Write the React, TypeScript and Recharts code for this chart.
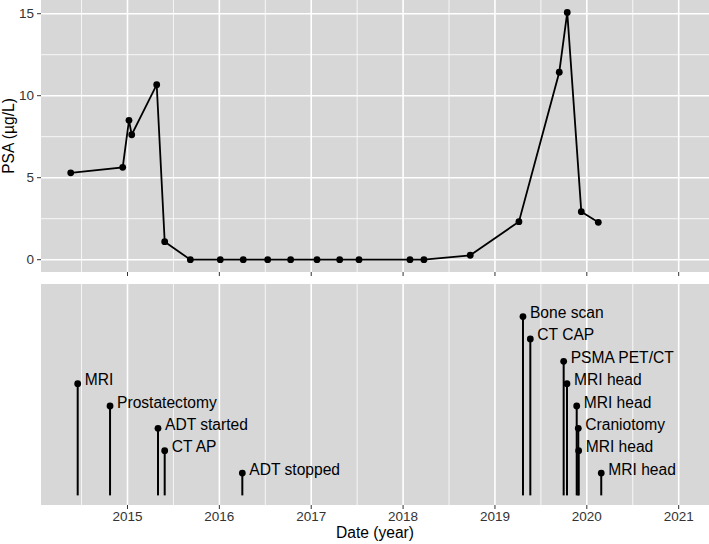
import React from 'react';
import {
  LineChart,
  Line,
  ComposedChart,
  Scatter,
  ReferenceLine,
  XAxis,
  YAxis,
  CartesianGrid,
} from 'recharts';

// PSA measurements (decimal year, µg/L)
const psaDates = [
  2014.382, 2014.948, 2015.016, 2015.046, 2015.318, 2015.405, 2015.684, 2016.01,
  2016.26, 2016.526, 2016.776, 2017.063, 2017.31, 2017.52, 2018.075, 2018.227,
  2018.731, 2019.261, 2019.7, 2019.787, 2019.94, 2020.125,
];
const psaValues = [
  5.3, 5.63, 8.5, 7.62, 10.67, 1.1, 0, 0, 0, 0, 0, 0, 0, 0, 0, 0, 0.27, 2.32, 11.43,
  15.08, 2.93, 2.28,
];

// clinical events
const eventNames = [
  'MRI',
  'Prostatectomy',
  'ADT started',
  'CT AP',
  'ADT stopped',
  'Bone scan',
  'CT CAP',
  'PSMA PET/CT',
  'MRI head',
  'MRI head',
  'Craniotomy',
  'MRI head',
  'MRI head',
];
const eventDates = [
  2014.458, 2014.81, 2015.332, 2015.405, 2016.25, 2019.305, 2019.385, 2019.748,
  2019.784, 2019.89, 2019.907, 2019.911, 2020.157,
];
const eventLevels = [5, 4, 3, 2, 1, 8, 7, 6, 5, 4, 3, 2, 1];

const yearTicks = [2015, 2016, 2017, 2018, 2019, 2020, 2021];
const halfYears = [2014.5, 2015.5, 2016.5, 2017.5, 2018.5, 2019.5, 2020.5];
const psaTicks = [0, 5, 10, 15];
const psaMinor = [2.5, 7.5, 12.5];

const X_DOMAIN: [number, number] = [2014.0585, 2021.33];
const PANEL_BG = '#d7d7d7';
const AXIS_TEXT = '#333';

const psaData = psaDates.map((t, i) => ({ t, psa: psaValues[i] }));
const events = eventDates.map((t, i) => ({ t, level: eventLevels[i], name: eventNames[i] }));

const EventDot = (props: any) => {
  const { cx, cy, payload } = props;
  return (
    <g>
      <circle cx={cx} cy={cy} r={3.4} fill="#000" />
      <text x={cx + 7} y={cy + 1.5} fontSize={15.6} fill="#000" textAnchor="start">
        {payload.name}
      </text>
    </g>
  );
};

const YTitle = (props: any) => {
  const { viewBox } = props;
  const cy = viewBox.y + viewBox.height / 2;
  return (
    <text
      x={14}
      y={cy}
      transform={`rotate(-90 14 ${cy})`}
      textAnchor="middle"
      fontSize={15.6}
      fill="#000"
    >
      PSA (µg/L)
    </text>
  );
};

export default function App() {
  return (
    <div
      style={{
        position: 'absolute',
        left: 0,
        top: 0,
        width: 709,
        height: 544,
        background: '#fff',
        fontFamily: "'Liberation Sans', Arial, sans-serif",
      }}
    >
      {/* PSA panel */}
      <div style={{ position: 'absolute', left: 0, top: 0 }}>
        <LineChart width={709} height={277} data={psaData} margin={{ top: 0, right: 0, bottom: 0, left: 0 }}>
          <CartesianGrid
            fill={PANEL_BG}
            stroke="#fff"
            strokeWidth={0.8}
            verticalValues={halfYears}
            horizontalValues={psaMinor}
          />
          <CartesianGrid
            stroke="#fff"
            strokeWidth={1.6}
            verticalValues={yearTicks}
            horizontalValues={psaTicks}
          />
          <XAxis
            type="number"
            dataKey="t"
            domain={X_DOMAIN}
            ticks={yearTicks}
            allowDataOverflow
            height={5}
            axisLine={false}
            tickSize={4}
            tickLine={{ stroke: AXIS_TEXT }}
            tick={() => <g />}
          />
          <YAxis
            type="number"
            domain={[-0.75, 15.835]}
            ticks={psaTicks}
            allowDataOverflow
            width={41}
            axisLine={false}
            tickSize={4}
            tickMargin={3}
            tickLine={{ stroke: AXIS_TEXT }}
            tick={{ fill: AXIS_TEXT, fontSize: 13.5 }}
            label={{ content: <YTitle /> }}
          />
          <Line
            type="linear"
            dataKey="psa"
            stroke="#000"
            strokeWidth={1.8}
            dot={{ r: 3.4, fill: '#000', stroke: '#000', strokeWidth: 0 }}
            isAnimationActive={false}
          />
        </LineChart>
      </div>

      {/* event timeline panel */}
      <div style={{ position: 'absolute', left: 0, top: 284 }}>
        <ComposedChart width={709} height={260} margin={{ top: 0, right: 0, bottom: 0, left: 41 }}>
          <CartesianGrid
            fill={PANEL_BG}
            stroke="#fff"
            strokeWidth={0.8}
            horizontal={false}
            verticalValues={halfYears}
          />
          <CartesianGrid stroke="#fff" strokeWidth={1.6} horizontal={false} verticalValues={yearTicks} />
          <XAxis
            type="number"
            dataKey="t"
            domain={X_DOMAIN}
            ticks={yearTicks}
            allowDataOverflow
            height={39}
            axisLine={false}
            tickSize={4}
            tickMargin={2}
            tickLine={{ stroke: AXIS_TEXT }}
            tick={{ fill: AXIS_TEXT, fontSize: 13.5 }}
            label={{ value: 'Date (year)', position: 'insideBottom', offset: 6, fontSize: 15.6, fill: '#000' }}
          />
          <YAxis type="number" dataKey="level" domain={[-0.43, 9.46]} allowDataOverflow hide />
          {events.map((e, i) => (
            <ReferenceLine
              key={i}
              segment={[
                { x: e.t, y: 0 },
                { x: e.t, y: e.level },
              ]}
              stroke="#000"
              strokeWidth={2}
            />
          ))}
          <Scatter data={events} dataKey="level" shape={<EventDot />} isAnimationActive={false} />
        </ComposedChart>
      </div>
    </div>
  );
}
